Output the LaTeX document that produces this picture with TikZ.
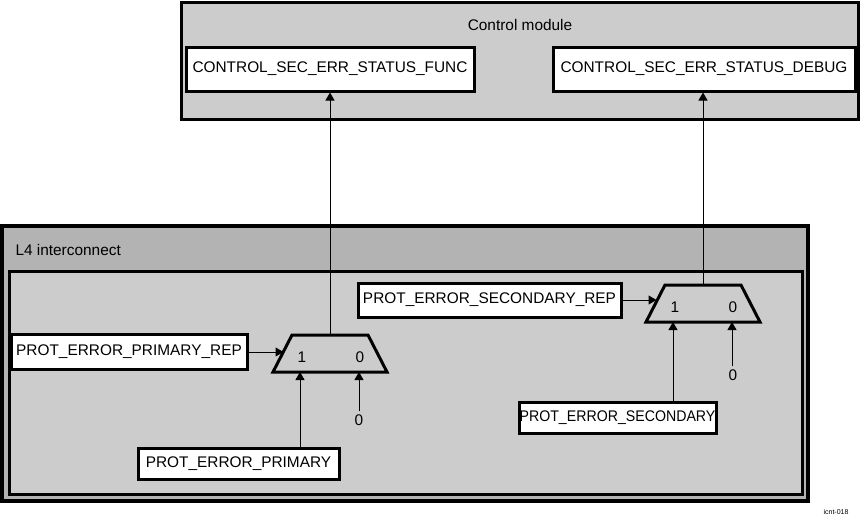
\documentclass[tikz,border=0pt]{standalone}
\usepackage{fontspec}
\usepackage{graphicx}
\setmainfont{Liberation Sans}
\usetikzlibrary{arrows.meta}
\definecolor{boxgray}{HTML}{CCCCCC}
\definecolor{outergray}{HTML}{B3B3B3}
\begin{document}
\begin{tikzpicture}[x=1pt,y=-1pt,
  every node/.style={font=\fontsize{15.4}{18}\selectfont},
  regbox/.style={draw, fill=white, line width=3pt, inner sep=0pt, align=center},
  frame/.style={draw, line width=3pt, inner sep=0pt},
  muxshape/.style={draw, fill=boxgray, line width=3pt, line join=miter},
  sig/.style={line width=1pt, -{Triangle[length=8pt,width=9pt]}},
  plain/.style={line width=1pt}]
\useasboundingbox (0,0) rectangle (860,517);

% Control module
\node[frame, fill=boxgray, minimum width=677pt, minimum height=117pt] (ctrl) at (519.5,60.5) {};
\node (ctrltitle) at (520,25) {Control module};
\node[regbox, minimum width=288pt, minimum height=44pt] (func) at (330,69) {CONTROL\_SEC\_ERR\_STATUS\_FUNC};
\node[regbox, minimum width=302pt, minimum height=44pt] (debug) at (704,69) {CONTROL\_SEC\_ERR\_STATUS\_DEBUG};

% L4 interconnect
\node[frame, line width=4pt, fill=outergray, minimum width=806pt, minimum height=275pt] (l4) at (405,363.5) {};
\node[anchor=west] (l4title) at (12,250) {L4 interconnect};
\node[frame, fill=boxgray, minimum width=793pt, minimum height=223pt] (inner) at (405.5,382.5) {};

% Mux 1
\draw[muxshape] (292,335) -- (368,335) -- (387,372) -- (273,372) -- cycle;
\coordinate (m1out) at (330,335);
\coordinate (m1in1) at (300,372);
\coordinate (m1in0) at (359,372);
\coordinate (m1sel) at (283.5,352);
\node (m1l1) at (302,357) {1};
\node (m1l0) at (360,357) {0};

% Mux 2
\draw[muxshape] (665,285) -- (741,285) -- (760,322) -- (646,322) -- cycle;
\coordinate (m2out) at (703,285);
\coordinate (m2in1) at (673,322);
\coordinate (m2in0) at (732,322);
\coordinate (m2sel) at (656.5,300);
\node (m2l1) at (675,307) {1};
\node (m2l0) at (733,307) {0};

% Inputs
\node[regbox, minimum width=236pt, minimum height=35pt] (prirep) at (129,351.5) {PROT\_ERROR\_PRIMARY\_REP};
\node[regbox, minimum width=201pt, minimum height=31pt] (pri) at (238.5,463.5) {PROT\_ERROR\_PRIMARY};
\node (zero1) at (359,420) {0};
\node[regbox, minimum width=263pt, minimum height=34pt] (secrep) at (489.5,300) {PROT\_ERROR\_SECONDARY\_REP};
\node[regbox, minimum width=197pt, minimum height=31pt] (sec) at (617.5,417.5) {\scalebox{0.92}[1]{PROT\_ERROR\_SECONDARY}};
\node (zero2) at (733,375) {0};

% Connectors
\draw[sig] (m1out) -- (m1out |- func.south);
\draw[sig] (m2out) -- (m2out |- debug.south);
\draw[sig] (prirep.east |- m1sel) -- (m1sel);
\draw[sig] (secrep.east |- m2sel) -- (m2sel);
\draw[sig] (m1in1 |- pri.north) -- (m1in1);
\draw[sig] (m2in1 |- sec.north) -- (m2in1);
\draw[sig] (zero1.north -| m1in0) -- (m1in0);
\draw[sig] (zero2.north -| m2in0) -- (m2in0);

\node[font=\fontsize{7}{8}\selectfont] (tag) at (836,512) {icnt-018};
\end{tikzpicture}
\end{document}
